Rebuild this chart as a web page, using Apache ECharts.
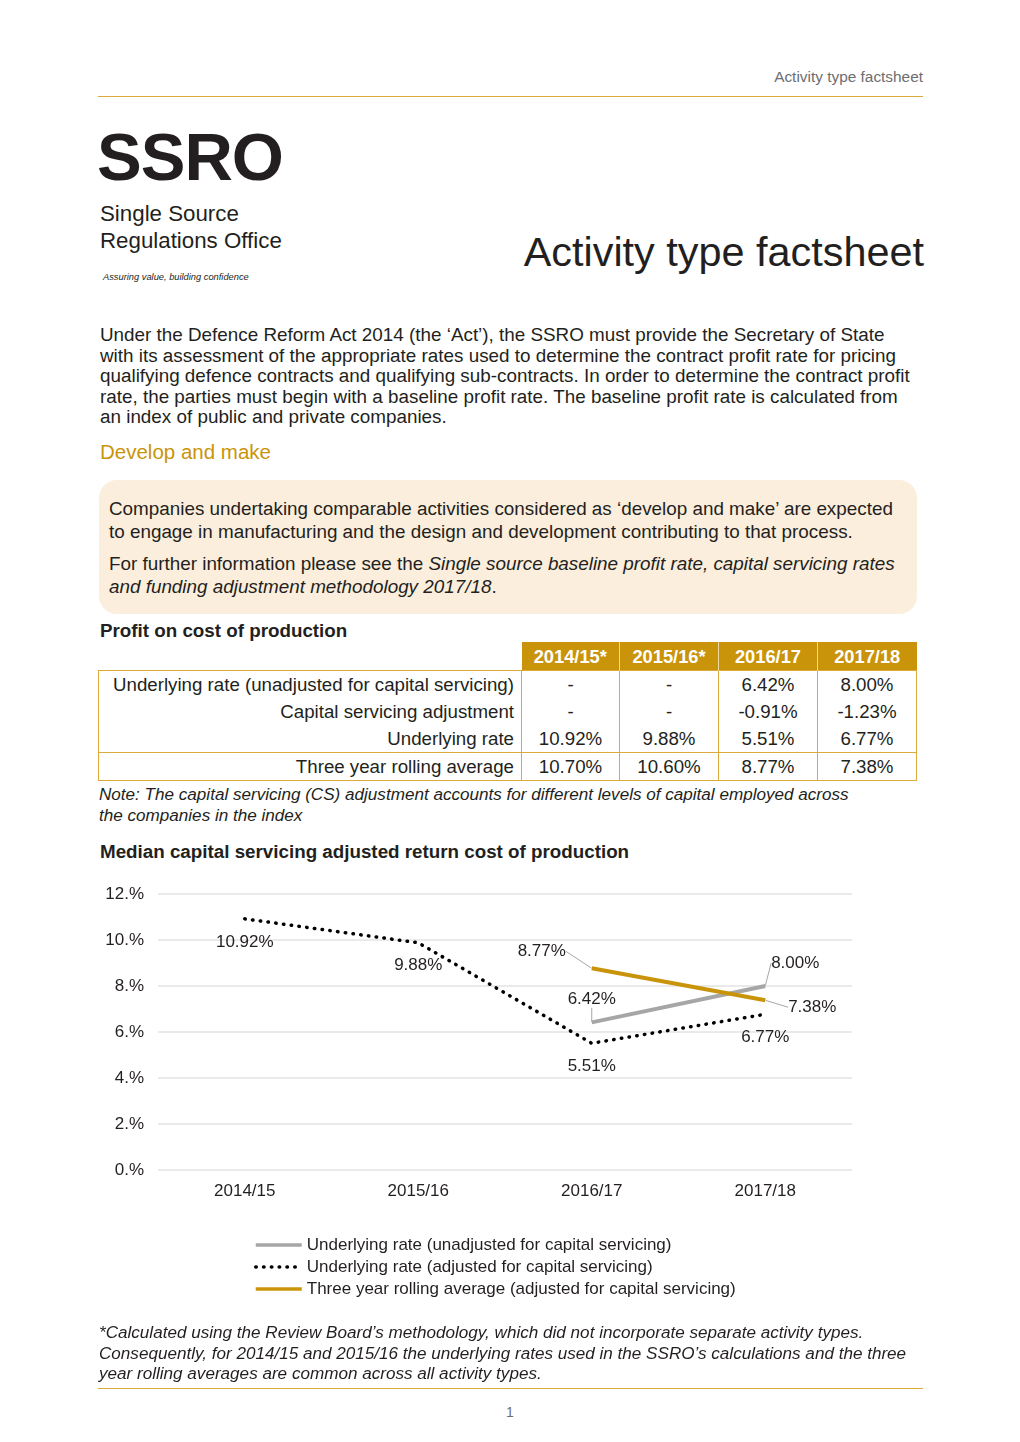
<!DOCTYPE html>
<html>
<head>
<meta charset="utf-8">
<script src="https://cdn.jsdelivr.net/npm/echarts@6/dist/echarts.min.js"></script>
<style>
  html, body { margin:0; padding:0; background:#fff; }
  body { width:1020px; height:1442px; position:relative; overflow:hidden;
         font-family:"Liberation Sans", Arial, sans-serif; color:#231f20; }
  .abs { position:absolute; white-space:nowrap; }
  .rule { position:absolute; left:98px; width:825px; height:1px; background:#dcaa3a; }
  table { border-collapse:collapse; table-layout:fixed; font-size:18.7px; }
  td, th { padding:0; height:27px; line-height:27px; }
  th { background:#c9940a; color:#fff; font-weight:bold; text-align:center; border-left:1px solid #f0d9a0; height:28px; font-size:18.3px; }
  td.lab { text-align:right; padding-right:7px; border-left:1px solid #dcaa3a; }
  td.val { text-align:center; border-left:1px solid #dcaa3a; border-right:1px solid #dcaa3a; }
</style>
</head>
<body>
<div class="abs" style="right:97px; top:68px; font-size:15.4px; color:#6d6e70;">Activity type factsheet</div>
<div class="rule" style="top:96px;"></div>

<div class="abs" style="left:97px; top:117px; font-size:67px; font-weight:bold; letter-spacing:-1px; line-height:80px;">SSRO</div>
<div class="abs" style="left:100px; top:200px; font-size:22.3px; line-height:27px;">Single Source<br>Regulations Office</div>
<div class="abs" style="left:103px; top:272px; font-size:9.3px; font-style:italic;">Assuring value, building confidence</div>
<div class="abs" style="right:96px; top:227px; font-size:41.4px; line-height:50px;">Activity type factsheet</div>

<div class="abs" style="left:100px; top:325px; font-size:18.85px; line-height:20.5px;">Under the Defence Reform Act 2014 (the ‘Act’), the SSRO must provide the Secretary of State<br>with its assessment of the appropriate rates used to determine the contract profit rate for pricing<br>qualifying defence contracts and qualifying sub-contracts. In order to determine the contract profit<br>rate, the parties must begin with a baseline profit rate. The baseline profit rate is calculated from<br>an index of public and private companies.</div>
<div class="abs" style="left:100px; top:440px; font-size:20.5px; color:#c9940a;">Develop and make</div>

<div class="abs" style="left:99px; top:480px; width:818px; height:134px; background:#fbeedd; border-radius:18px;"></div>
<div class="abs" style="left:109px; top:497px; font-size:18.85px; line-height:23px;">Companies undertaking comparable activities considered as ‘develop and make’ are expected<br>to engage in manufacturing and the design and development contributing to that process.</div>
<div class="abs" style="left:109px; top:552px; font-size:18.85px; line-height:23px;">For further information please see the <i>Single source baseline profit rate, capital servicing rates<br>and funding adjustment methodology 2017/18</i>.</div>

<div class="abs" style="left:100px; top:620px; font-size:18.8px; font-weight:bold;">Profit on cost of production</div>
<div class="abs" style="left:98px; top:642px;" id="tbl"></div>

<div class="abs" style="left:99px; top:785px; font-size:17.1px; line-height:20.5px; font-style:italic;">Note: The capital servicing (CS) adjustment accounts for different levels of capital employed across<br>the companies in the index</div>

<div class="abs" style="left:100px; top:841px; font-size:18.8px; font-weight:bold;">Median capital servicing adjusted return cost of production</div>

<div id="chart" class="abs" style="left:0; top:870px; width:1020px; height:460px;"></div>

<div class="abs" style="left:99px; top:1323px; font-size:17.1px; line-height:20.5px; font-style:italic;">*Calculated using the Review Board’s methodology, which did not incorporate separate activity types.<br>Consequently, for 2014/15 and 2015/16 the underlying rates used in the SSRO’s calculations and the three<br>year rolling averages are common across all activity types.</div>
<div class="rule" style="top:1388px;"></div>
<div class="abs" style="left:0; width:1020px; text-align:center; top:1404px; font-size:14px; color:#6d6e70;">1</div>

<script>
// ---- data ----
var categories = ['2014/15', '2015/16', '2016/17', '2017/18'];
var tableHeaders = ['2014/15*', '2015/16*', '2016/17', '2017/18'];
var rowLabels = ['Underlying rate (unadjusted for capital servicing)', 'Capital servicing adjustment', 'Underlying rate', 'Three year rolling average'];
var unadjustedRate = [null, null, 6.42, 8.00];
var csAdjustment = [null, null, -0.91, -1.23];
var adjustedRate = [10.92, 9.88, 5.51, 6.77];
var rollingAverage = [10.70, 10.60, 8.77, 7.38];
var yTickValues = [0, 2, 4, 6, 8, 10, 12];
var yTickLabels = ['0.%', '2.%', '4.%', '6.%', '8.%', '10.%', '12.%'];
var seriesNames = ['Underlying rate (unadjusted for capital servicing)', 'Underlying rate (adjusted for capital servicing)', 'Three year rolling average (adjusted for capital servicing)'];
// chart shows rolling average only for 2016/17 onwards
var rollingAverageChart = [null, null, 8.77, 7.38];

// ---- table ----
function fmt(v) { return v === null ? '-' : v.toFixed(2) + '%'; }
var rows = [unadjustedRate, csAdjustment, adjustedRate, rollingAverage];
var h = '<table><colgroup><col style="width:423px"><col style="width:98px"><col style="width:99px"><col style="width:99px"><col style="width:99px"></colgroup>';
h += '<tr><th style="background:none;border:none"></th>';
tableHeaders.forEach(function (t, i) { h += '<th' + (i === 0 ? ' style="border-left:none"' : '') + '>' + t + '</th>'; });
h += '</tr>';
rows.forEach(function (r, ri) {
  var top = (ri === 0 || ri === 3) ? 'border-top:1px solid #dcaa3a;' : '';
  var bot = (ri === 3) ? 'border-bottom:1px solid #dcaa3a;' : '';
  h += '<tr><td class="lab" style="' + top + bot + '">' + rowLabels[ri] + '</td>';
  r.forEach(function (v) { h += '<td class="val" style="' + top + bot + '">' + fmt(v) + '</td>'; });
  h += '</tr>';
});
h += '</table>';
document.getElementById('tbl').innerHTML = h;

// ---- chart ----
var labelOffsets = [
  [[0, 0], [0, 0], [0, -23], [30, -23]],
  [[0, 23], [0, 23], [0, 23], [0, 23]],
  [[0, 0], [0, 0], [-50, -17], [47, 7]]
];
function layoutFor(si) {
  return function (p) {
    var o = labelOffsets[si][p.dataIndex];
    return { x: p.rect.x + p.rect.width / 2 + o[0], y: p.rect.y + p.rect.height / 2 + o[1], align: 'center', verticalAlign: 'middle' };
  };
}
var labelStyle = { show: true, color: '#231f20', fontSize: 17, fontFamily: 'Liberation Sans', formatter: function (p) { return p.value.toFixed(2) + '%'; } };
var chart = echarts.init(document.getElementById('chart'), null, { renderer: 'canvas' });
chart.setOption({
  animation: false,
  textStyle: { fontFamily: 'Liberation Sans' },
  grid: { left: 158, right: 168, top: 24, bottom: 160, containLabel: false },
  xAxis: {
    type: 'category', data: categories, boundaryGap: true,
    axisLine: { show: false }, axisTick: { show: false },
    axisLabel: { color: '#231f20', fontSize: 17, margin: 13 }
  },
  yAxis: {
    type: 'value', min: 0, max: 12, interval: 2,
    axisLine: { show: false }, axisTick: { show: false },
    axisLabel: { color: '#231f20', fontSize: 17, margin: 14, formatter: function (v) { return yTickLabels[yTickValues.indexOf(v)]; } },
    splitLine: { lineStyle: { color: '#e3e3e3', width: 1.5 } }
  },
  legend: {
    orient: 'vertical', left: 254, top: 365, padding: 0, itemWidth: 46, itemHeight: 14, itemGap: 2,
    textStyle: { color: '#231f20', fontSize: 17, lineHeight: 20 },
    lineStyle: { width: 3.5 },
    data: seriesNames
  },
  series: [
    { name: seriesNames[0], type: 'line', data: unadjustedRate, symbol: 'circle', symbolSize: 1,
      itemStyle: { color: 'rgba(0,0,0,0)' }, lineStyle: { color: '#a6a6a6', width: 4 },
      label: labelStyle, labelLine: { show: true, lineStyle: { color: '#a6a6a6', width: 1 } }, labelLayout: layoutFor(0) },
    { name: seriesNames[1], type: 'line', data: adjustedRate, symbol: 'circle', symbolSize: 1,
      itemStyle: { color: 'rgba(0,0,0,0)' }, lineStyle: { color: '#000', width: 3.5, type: [0.5, 7.3], cap: 'round' },
      label: labelStyle, labelLayout: layoutFor(1) },
    { name: seriesNames[2], type: 'line', data: rollingAverageChart, symbol: 'circle', symbolSize: 1,
      itemStyle: { color: 'rgba(0,0,0,0)' }, lineStyle: { color: '#c9940a', width: 4 },
      label: labelStyle, labelLine: { show: true, lineStyle: { color: '#a6a6a6', width: 1 } }, labelLayout: layoutFor(2) }
  ]
});
</script>
</body>
</html>
